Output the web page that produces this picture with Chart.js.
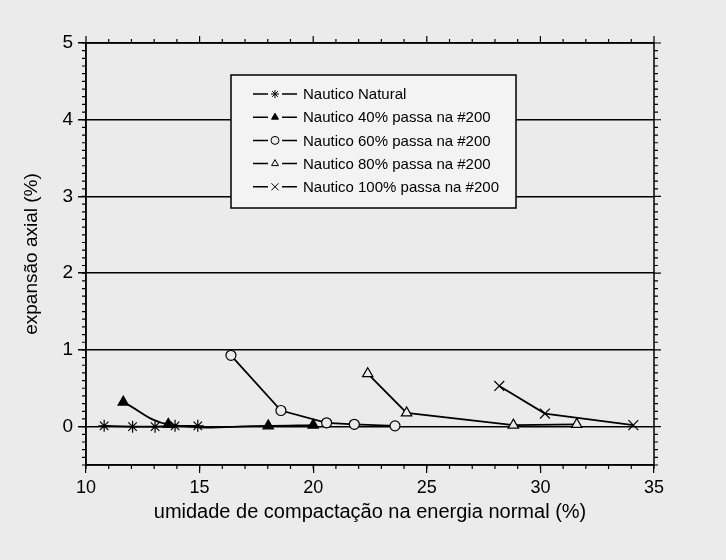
<!DOCTYPE html>
<html>
<head>
<meta charset="utf-8">
<script src="https://cdn.jsdelivr.net/npm/chart.js@4.4.1/dist/chart.umd.min.js"></script>
<style>
  html, body { margin: 0; padding: 0; background: #ebebeb; }
  #wrap { width: 726px; height: 560px; }
</style>
</head>
<body>
<div id="wrap"><canvas id="expChart" width="726" height="560"></canvas></div>
<script>
// umidade de compactacao (%) x expansao axial (%)
var natX  = [10.8, 12.05, 13.04, 13.92, 14.92];
var natY  = [0.01, 0.0, 0.0, 0.01, 0.01];
var p40X  = [11.64, 13.62, 18.02, 20.0];
var p40Y  = [0.32, 0.03, 0.01, 0.02];
var p60X  = [16.38, 18.58, 20.59, 21.81, 23.6];
var p60Y  = [0.93, 0.21, 0.05, 0.03, 0.01];
var p80X  = [22.4, 24.11, 28.81, 31.6];
var p80Y  = [0.69, 0.18, 0.02, 0.03];
var p100X = [28.19, 30.2, 34.09];
var p100Y = [0.53, 0.17, 0.02];

var seriesNames = ["Nautico Natural", "Nautico 40% passa na #200", "Nautico 60% passa na #200",
                   "Nautico 80% passa na #200", "Nautico 100% passa na #200"];
var xTicks = [10, 15, 20, 25, 30, 35];
var yTicks = [0, 1, 2, 3, 4, 5];

function pts(xs, ys) {
  return xs.map(function (x, i) { return { x: x, y: ys[i] }; });
}

Chart.defaults.font.family = 'Arial, "Liberation Sans", sans-serif';
Chart.defaults.color = '#000';

var BG = '#ebebeb';

function serie(label, xs, ys, style, fill, radius, tension) {
  return {
    label: label,
    data: pts(xs, ys),
    borderColor: '#000',
    borderWidth: 1.8,
    pointStyle: style,
    pointRadius: radius,
    pointBorderColor: '#000',
    pointBackgroundColor: fill,
    pointBorderWidth: 1.2,
    tension: tension,
    showLine: true
  };
}

// moldura, ticks menores e legenda dentro do grafico
var framePlugin = {
  id: 'frame',
  afterDatasetsDraw: function (chart) {
    var ctx = chart.ctx, ca = chart.chartArea;
    var sx = chart.scales.x, sy = chart.scales.y;
    ctx.save();
    ctx.strokeStyle = '#000';
    ctx.lineWidth = 1.5;
    ctx.strokeRect(ca.left, ca.top, ca.right - ca.left, ca.bottom - ca.top);
    ctx.lineWidth = 1.2;
    ctx.beginPath();
    for (var v = -5; v <= 50; v++) {
      var py = sy.getPixelForValue(v / 10);
      var len = (v % 10 === 0) ? 7 : 4;
      ctx.moveTo(ca.left - 4, py); ctx.lineTo(ca.left, py);
      ctx.moveTo(ca.right, py); ctx.lineTo(ca.right + len, py);
    }
    for (var u = 10; u <= 35; u++) {
      var px = sx.getPixelForValue(u);
      var l2 = (u % 5 === 0) ? 7 : 4;
      ctx.moveTo(px, ca.bottom); ctx.lineTo(px, ca.bottom + 4);
      ctx.moveTo(px, ca.top); ctx.lineTo(px, ca.top - l2);
    }
    ctx.stroke();

    // legenda
    var bx = 231, by = 75, bw = 285, bh = 133;
    ctx.fillStyle = '#f3f3f3';
    ctx.fillRect(bx, by, bw, bh);
    ctx.lineWidth = 1.5;
    ctx.strokeRect(bx, by, bw, bh);
    ctx.font = '15px Arial, "Liberation Sans", sans-serif';
    ctx.textBaseline = 'middle';
    chart.data.datasets.forEach(function (ds, i) {
      var ry = by + 19 + i * 23.2;
      ctx.strokeStyle = '#000';
      ctx.lineWidth = 1.5;
      ctx.beginPath();
      ctx.moveTo(bx + 22, ry); ctx.lineTo(bx + 37, ry);
      ctx.moveTo(bx + 51, ry); ctx.lineTo(bx + 66, ry);
      ctx.stroke();
      ctx.fillStyle = ds.pointBackgroundColor;
      ctx.lineWidth = 1;
      Chart.helpers.drawPoint(ctx, { pointStyle: ds.pointStyle, radius: ds.pointStyle === 'crossRot' ? 5 : 4, rotation: 0, borderWidth: 1 }, bx + 44, ry);
      ctx.fillStyle = '#000';
      ctx.fillText(ds.label, bx + 72, ry + 1);
    });
    ctx.restore();
  }
};

new Chart(document.getElementById('expChart'), {
  type: 'scatter',
  data: {
    datasets: [
      serie(seriesNames[0], natX, natY, 'star', '#000', 6, 0),
      serie(seriesNames[1], p40X, p40Y, 'triangle', '#000', 6, 0.4),
      serie(seriesNames[2], p60X, p60Y, 'circle', BG, 5, 0),
      serie(seriesNames[3], p80X, p80Y, 'triangle', BG, 6, 0),
      serie(seriesNames[4], p100X, p100Y, 'crossRot', '#000', 7, 0)
    ]
  },
  options: {
    responsive: false,
    animation: false,
    devicePixelRatio: 1,
    layout: { padding: { top: 43, right: 72, left: 0, bottom: 0 } },
    plugins: { legend: { display: false }, tooltip: { enabled: false } },
    scales: {
      x: {
        type: 'linear', min: 10, max: 35,
        afterBuildTicks: function (s) { s.ticks = xTicks.map(function (v) { return { value: v }; }); },
        afterFit: function (s) { s.height = 95; },
        ticks: { font: { size: 18 }, color: '#000', padding: 4, maxRotation: 0 },
        grid: { drawOnChartArea: false, color: '#000', tickLength: 8, lineWidth: 1.2 },
        border: { color: '#000', width: 1.5 },
        title: { display: true, text: 'umidade de compactação na energia normal (%)',
                 font: { size: 20 }, color: '#000', padding: { top: 0, bottom: 36 } }
      },
      y: {
        type: 'linear', min: -0.5, max: 5,
        afterBuildTicks: function (s) { s.ticks = yTicks.map(function (v) { return { value: v }; }); },
        afterFit: function (s) { s.width = 86; },
        ticks: { font: { size: 19 }, color: '#000', padding: 5 },
        grid: { color: '#000', tickColor: '#000', tickLength: 8, lineWidth: 1.5 },
        border: { color: '#000', width: 1.5 },
        title: { display: true, text: 'expansão axial (%)',
                 font: { size: 19 }, color: '#000', padding: { top: 20, bottom: 0 } }
      }
    }
  },
  plugins: [framePlugin]
});
</script>
</body>
</html>
